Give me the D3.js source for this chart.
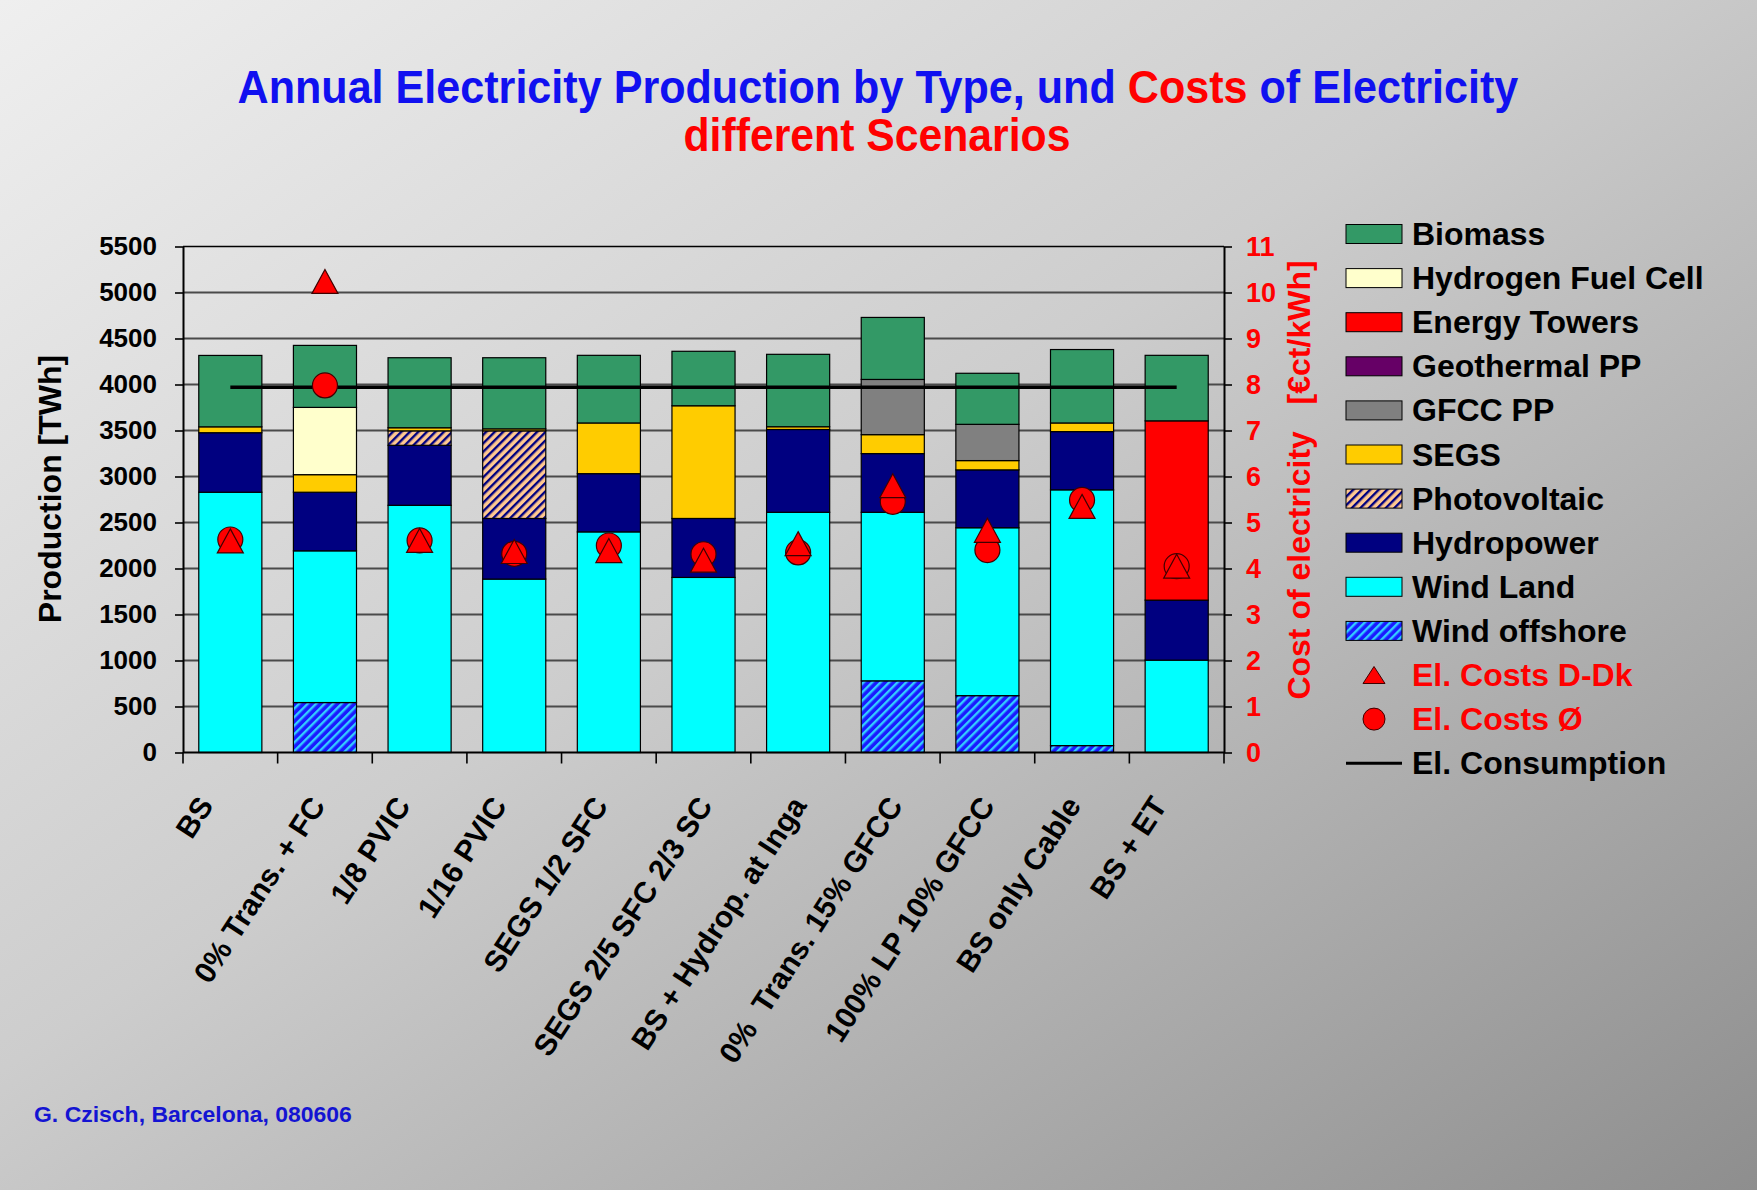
<!DOCTYPE html>
<html><head><meta charset="utf-8">
<script src="https://cdn.jsdelivr.net/npm/d3@7"></script>
<style>html,body{margin:0;padding:0;}svg{display:block;}</style>
</head><body>
<script>
// ---------- DATA ----------
const categories = ["BS","0% Trans. + FC","1/8 PVIC","1/16 PVIC","SEGS 1/2 SFC","SEGS 2/5 SFC 2/3 SC","BS + Hydrop. at Inga","0%  Trans. 15% GFCC","100% LP 10% GFCC","BS only Cable","BS + ET"];
const windOffshore = [0, 543, 0, 0, 0, 0, 0, 779, 618, 75, 0];
const windLand     = [2829, 1649, 2687, 1885, 2398, 1903, 2611, 1832, 1825, 2780, 1004];
const hydropower   = [647, 637, 652, 659, 633, 641, 900, 638, 629, 633, 652];
const photovoltaic = [0, 0, 157, 952, 0, 0, 0, 0, 0, 0, 0];
const segs         = [64, 191, 34, 22, 551, 1225, 30, 206, 101, 94, 0];
const gfcc         = [0, 0, 0, 0, 0, 0, 0, 600, 394, 0, 0];
const geothermal   = [0, 0, 0, 0, 0, 0, 0, 0, 0, 0, 0];
const energyTowers = [0, 0, 0, 0, 0, 0, 0, 0, 0, 0, 1949];
const hydrogenFC   = [0, 731, 0, 0, 0, 0, 0, 0, 0, 0, 0];
const biomass      = [776, 674, 761, 773, 735, 592, 787, 674, 555, 798, 712];
const costsDDk     = [4.6, 10.24, 4.61, 4.37, 4.39, 4.18, 4.54, 5.80, 4.83, 5.35, 4.05];
const costsAvg     = [4.63, 7.98, 4.61, 4.32, 4.50, 4.31, 4.35, 5.45, 4.40, 5.49, 4.05];
const consumption  = [3970, 3970, 3970, 3970, 3970, 3970, 3970, 3970, 3970, 3970, 3970];
const leftTicks  = [0,500,1000,1500,2000,2500,3000,3500,4000,4500,5000,5500];
const rightTicks = [0,1,2,3,4,5,6,7,8,9,10,11];

const seriesDefs = [
  {key:"Wind offshore", values:windOffshore, fill:"url(#patOff)"},
  {key:"Wind Land", values:windLand, fill:"#00ffff"},
  {key:"Hydropower", values:hydropower, fill:"#000080"},
  {key:"Photovoltaic", values:photovoltaic, fill:"url(#patPV)"},
  {key:"SEGS", values:segs, fill:"#ffcc00"},
  {key:"GFCC PP", values:gfcc, fill:"#808080"},
  {key:"Geothermal PP", values:geothermal, fill:"#660066"},
  {key:"Energy Towers", values:energyTowers, fill:"#ff0000"},
  {key:"Hydrogen Fuel Cell", values:hydrogenFC, fill:"#ffffcc"},
  {key:"Biomass", values:biomass, fill:"#339966"}
];
const legendOrder = ["Biomass","Hydrogen Fuel Cell","Energy Towers","Geothermal PP","GFCC PP","SEGS","Photovoltaic","Hydropower","Wind Land","Wind offshore"];

// ---------- LAYOUT ----------
const W = 1757, H = 1190;
const FONT = "'Liberation Sans', Arial, sans-serif";
const px0 = 183, px1 = 1224, py0 = 246.5, py1 = 752.5;

const svg = d3.select("body").append("svg").attr("width", W).attr("height", H)
  .style("font-family", FONT).style("font-weight", "bold");
const defs = svg.append("defs");
const bg = defs.append("linearGradient").attr("id","bg").attr("x1",0).attr("y1",0).attr("x2",1).attr("y2",1);
bg.append("stop").attr("offset",0).attr("stop-color","#efefef");
bg.append("stop").attr("offset",0.45).attr("stop-color","#cdcdcd");
bg.append("stop").attr("offset",1).attr("stop-color","#8e8e8e");
svg.append("rect").attr("width",W).attr("height",H).attr("fill","url(#bg)");

const pv = defs.append("pattern").attr("id","patPV").attr("patternUnits","userSpaceOnUse")
  .attr("width",6).attr("height",6).attr("patternTransform","rotate(45)");
pv.append("rect").attr("width",6).attr("height",6).attr("fill","#ffc890");
pv.append("rect").attr("width",2.4).attr("height",6).attr("fill","#000080");
const off = defs.append("pattern").attr("id","patOff").attr("patternUnits","userSpaceOnUse")
  .attr("width",6).attr("height",6).attr("patternTransform","rotate(45)");
off.append("rect").attr("width",6).attr("height",6).attr("fill","#1a1aff");
off.append("rect").attr("width",2.4).attr("height",6).attr("fill","#33ccff");

const x = d3.scaleBand().domain(categories).range([px0, px1]).paddingInner(0).paddingOuter(0);
const yL = d3.scaleLinear().domain([0, 5500]).range([py1, py0]);
const yR = d3.scaleLinear().domain([0, 11]).range([py1, py0]);
const barW = x.bandwidth() / 1.5;

// gridlines
svg.append("g").selectAll("line").data(leftTicks.filter(v => v > 0)).join("line")
  .attr("x1", px0).attr("x2", px1).attr("y1", d => yL(d)).attr("y2", d => yL(d))
  .attr("stroke", d => d === 5500 ? "#000" : "#4a4a4a").attr("stroke-width", d => d === 5500 ? 1.6 : 2);

// stacked bars
const rows = categories.map((c, i) => {
  const r = {cat: c};
  seriesDefs.forEach(s => r[s.key] = s.values[i]);
  return r;
});
const stacked = d3.stack().keys(seriesDefs.map(s => s.key))(rows);
const barsG = svg.append("g");
stacked.forEach((layer, li) => {
  barsG.append("g").selectAll("rect").data(layer.filter(d => d[1] - d[0] > 0)).join("rect")
    .attr("x", d => x(d.data.cat) + (x.bandwidth() - barW) / 2)
    .attr("width", barW)
    .attr("y", d => yL(d[1]))
    .attr("height", d => yL(d[0]) - yL(d[1]))
    .attr("fill", seriesDefs[li].fill)
    .attr("stroke", "#000").attr("stroke-width", 1.2);
});

// consumption line
const line = d3.line().x((d, i) => x(categories[i]) + x.bandwidth() / 2).y(d => yL(d));
svg.append("path").datum(consumption).attr("d", line).attr("fill", "none")
  .attr("stroke", "#000").attr("stroke-width", 3.5);

// axes
const axL = svg.append("g").attr("transform", `translate(${px0},0)`)
  .call(d3.axisLeft(yL).tickValues(leftTicks).tickFormat(d3.format("d")).tickSize(8).tickSizeOuter(0).tickPadding(18));
axL.select(".domain").attr("stroke", "#000").attr("stroke-width", 2);
axL.selectAll(".tick line").attr("stroke", "#000").attr("stroke-width", 1.6);
axL.selectAll("text").attr("font-size", 26).attr("font-family", FONT).attr("font-weight", "bold").attr("fill", "#000");

const axR = svg.append("g").attr("transform", `translate(${px1},0)`)
  .call(d3.axisRight(yR).tickValues(rightTicks).tickFormat(d3.format("d")).tickSize(8).tickSizeOuter(0).tickPadding(14));
axR.select(".domain").attr("stroke", "#000").attr("stroke-width", 2);
axR.selectAll(".tick line").attr("stroke", "#000").attr("stroke-width", 1.6);
axR.selectAll("text").attr("font-size", 27).attr("font-family", FONT).attr("font-weight", "bold").attr("fill", "#ff0000");

// bottom axis
const bounds = categories.map(c => x(c)).concat([px1]);
svg.append("line").attr("x1", px0).attr("x2", px1).attr("y1", py1).attr("y2", py1)
  .attr("stroke", "#000").attr("stroke-width", 2);
svg.append("g").selectAll("line").data(bounds).join("line")
  .attr("x1", d => d).attr("x2", d => d).attr("y1", py1).attr("y2", py1 + 11)
  .attr("stroke", "#000").attr("stroke-width", 1.6);

// category labels
const labG = svg.append("g");
categories.forEach(c => {
  const t = labG.append("text").text(c).attr("font-size", 30).attr("text-anchor", "end")
    .style("white-space", "pre").attr("fill", "#000");
  const L = t.node().getComputedTextLength();
  const cx = x(c) + x.bandwidth() / 2 - 20 + 0.1 * L;
  t.attr("transform", `translate(${cx},${py1 + 53}) rotate(-57)`);
});

// cost markers
const cxOf = i => x(categories[i]) + x.bandwidth() / 2;
svg.append("g").selectAll("circle").data(costsAvg).join("circle")
  .attr("cx", (d, i) => cxOf(i)).attr("cy", d => yR(d)).attr("r", 12.5)
  .attr("fill", "#ff0000").attr("stroke", "#400000").attr("stroke-width", 1.2);
const tri = (cx, cy, w, h) => `M${cx},${cy - h / 2}L${cx + w / 2},${cy + h / 2}L${cx - w / 2},${cy + h / 2}Z`;
svg.append("g").selectAll("path").data(costsDDk).join("path")
  .attr("d", (d, i) => tri(cxOf(i), yR(d), 26, 24))
  .attr("fill", "#ff0000").attr("stroke", "#400000").attr("stroke-width", 1.2);

// axis titles
svg.append("text").attr("transform", "translate(61,489) rotate(-90)").attr("text-anchor", "middle")
  .attr("font-size", 32).attr("fill", "#000").text("Production [TWh]");
svg.append("text").attr("transform", "translate(1310,480) rotate(-90)").attr("text-anchor", "middle")
  .attr("font-size", 32).attr("fill", "#ff0000").style("white-space", "pre")
  .text("Cost of electricity   [\u20acct/kWh]");

// legend
const lx = 1346, ly0 = 234, lstep = 44.1, tx = 1412;
const leg = svg.append("g");
legendOrder.forEach((k, i) => {
  const s = seriesDefs.find(d => d.key === k);
  const cy = ly0 + i * lstep;
  leg.append("rect").attr("x", lx).attr("y", cy - 9.5).attr("width", 56).attr("height", 19)
    .attr("fill", s.fill).attr("stroke", "#000").attr("stroke-width", 1);
  leg.append("text").attr("x", tx).attr("y", cy + 11).attr("font-size", 32).attr("fill", "#000").text(k);
});
const extra = [
  {label:"El. Costs D-Dk", color:"#ff0000", type:"tri"},
  {label:"El. Costs \u00d8", color:"#ff0000", type:"circ"},
  {label:"El. Consumption", color:"#000", type:"line"}
];
extra.forEach((e, j) => {
  const cy = ly0 + (legendOrder.length + j) * lstep;
  if (e.type === "tri") leg.append("path").attr("d", tri(lx + 28, cy, 22, 17)).attr("fill", "#ff0000").attr("stroke", "#400000").attr("stroke-width", 1);
  if (e.type === "circ") leg.append("circle").attr("cx", lx + 28).attr("cy", cy).attr("r", 11).attr("fill", "#ff0000").attr("stroke", "#400000").attr("stroke-width", 1);
  if (e.type === "line") leg.append("line").attr("x1", lx).attr("x2", lx + 56).attr("y1", cy).attr("y2", cy).attr("stroke", "#000").attr("stroke-width", 3);
  leg.append("text").attr("x", tx).attr("y", cy + 11).attr("font-size", 32).attr("fill", e.color).text(e.label);
});

// title (horizontally fitted)
function fit(sel, cx, baseline, targetW) {
  const w = sel.node().getComputedTextLength();
  const s = targetW / w;
  sel.attr("x", 0).attr("y", 0).attr("text-anchor", "start")
    .attr("transform", `translate(${cx - targetW / 2},${baseline}) scale(${s},1)`);
}
const BLUE = "#1010f0", RED = "#ff0000";
const t1 = svg.append("text").attr("font-size", 47);
t1.append("tspan").attr("fill", BLUE).text("Annual Electricity Production by Type, und ");
t1.append("tspan").attr("fill", RED).text("Costs");
t1.append("tspan").attr("fill", BLUE).text(" of Electricity");
fit(t1, 878, 103, 1281);
const t2 = svg.append("text").attr("font-size", 47).attr("fill", RED).text("different Scenarios");
fit(t2, 877, 151, 387);

// footer
const ft = svg.append("text").attr("font-size", 22).attr("fill", "#1414d2").text("G. Czisch, Barcelona, 080606");
const fw = ft.node().getComputedTextLength();
ft.attr("transform", `translate(34,1122) scale(${318 / fw},1)`);
</script>
</body></html>
